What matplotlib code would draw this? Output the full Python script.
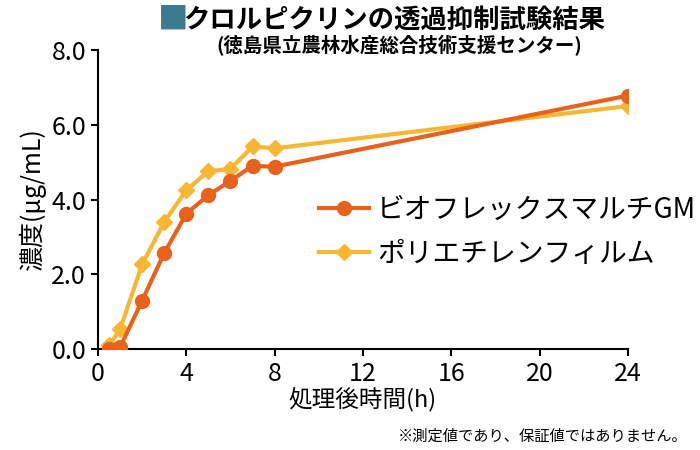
import matplotlib
matplotlib.use("Agg")
import matplotlib.pyplot as plt

plt.rcParams["font.family"] = "Noto Sans CJK JP"

hours = [0.5, 1, 2, 3, 4, 5, 6, 7, 8, 24]
bioflex = [0.0, 0.05, 1.3, 2.57, 3.62, 4.12, 4.5, 4.9, 4.88, 6.78]
polyethylene = [0.1, 0.53, 2.27, 3.4, 4.25, 4.76, 4.82, 5.42, 5.37, 6.5]
labels = ["ビオフレックスマルチGM", "ポリエチレンフィルム"]

fig = plt.figure(figsize=(7, 4.5), dpi=100)
ax = fig.add_axes([0.14, 0.224, 0.757, 0.665])

ax.plot(hours, polyethylene, color="#f8b633", marker="D", markersize=8,
        linewidth=3, label=labels[1], zorder=2)
ax.plot(hours, bioflex, color="#e8621c", marker="o", markersize=10,
        linewidth=3, label=labels[0], zorder=3)

ax.set_xlim(0, 24)
ax.set_ylim(0, 8)
ax.set_xticks(range(0, 25, 4))
ax.set_yticks([0, 2, 4, 6, 8])
ax.set_yticklabels(["0.0", "2.0", "4.0", "6.0", "8.0"])
ax.tick_params(labelsize=18, length=5, width=1.5)
for s in ["top", "right"]:
    ax.spines[s].set_visible(False)
ax.spines["left"].set_linewidth(1.5)
ax.spines["bottom"].set_linewidth(1.5)

ax.set_xlabel("処理後時間(h)", fontsize=17, labelpad=0)
ax.set_ylabel("濃度(μg/mL)", fontsize=18, labelpad=4)

h, l = ax.get_legend_handles_labels()
fig.legend(h[::-1], l[::-1], loc="center left", bbox_to_anchor=(0.42, 0.485),
           fontsize=20, frameon=False, handlelength=1.8, labelspacing=0.5,
           handletextpad=0.3)

fig.text(0.225, 0.955, "■", color="#3c7b8d", fontsize=22, va="center")
fig.text(0.262, 0.955, "クロルピクリンの透過抑制試験結果", fontsize=19,
         fontweight="bold", va="center")
fig.text(0.57, 0.898, "(徳島県立農林水産総合技術支援センター)", fontsize=14,
         fontweight="bold", va="center", ha="center")
fig.text(0.983, 0.03, "※測定値であり、保証値ではありません。", fontsize=11,
         ha="right", va="center")

fig.savefig("out.png", dpi=100)
